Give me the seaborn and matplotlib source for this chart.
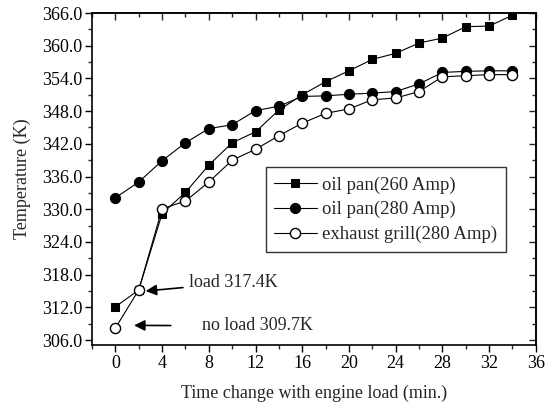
import matplotlib
matplotlib.use("Agg")
import matplotlib.pyplot as plt
import seaborn as sns
import numpy as np
from matplotlib.ticker import MultipleLocator, FormatStrFormatter

time_min = [0, 2, 4, 6, 8, 10, 12, 14, 16, 18, 20, 22, 24, 26, 28, 30, 32, 34]
oil_pan_260 = [312.1, 315.2, 329.2, 333.1, 338.1, 342.2, 344.2, 348.2, 351.0, 353.4,
               355.4, 357.5, 358.6, 360.5, 361.4, 363.5, 363.6, 365.6]
oil_pan_280 = [332.1, 335.0, 338.9, 342.2, 344.8, 345.5, 348.1, 348.9, 350.7, 350.8,
               351.1, 351.3, 351.6, 353.0, 355.1, 355.3, 355.4, 355.4]
exhaust_280 = [308.2, 315.2, 330.1, 331.5, 335.0, 339.0, 341.0, 343.5, 345.8, 347.6,
               348.4, 350.1, 350.4, 351.6, 354.3, 354.5, 354.7, 354.7]
labels = ["oil pan(260 Amp)", "oil pan(280 Amp)", "exhaust grill(280 Amp)"]
x_ticks = [0, 4, 8, 12, 16, 20, 24, 28, 32, 36]
y_ticks = [306, 312, 318, 324, 330, 336, 342, 348, 354, 360, 366]

sns.set_theme(style="ticks")
plt.rcParams['font.family'] = ['Liberation Serif', 'DejaVu Serif']

fig = plt.figure(figsize=(5.53, 4.08), dpi=100)
ax = fig.add_axes([0.1664, 0.1544, 0.8026, 0.8137])

sns.lineplot(x=time_min, y=oil_pan_260, ax=ax, color='black', marker='s',
             markersize=6.3, markerfacecolor='black', markeredgecolor='black',
             linewidth=0.8, label=labels[0])
sns.lineplot(x=time_min, y=oil_pan_280, ax=ax, color='black', marker='o',
             markersize=7.3, markerfacecolor='black', markeredgecolor='black',
             linewidth=0.8, label=labels[1])
sns.lineplot(x=time_min, y=exhaust_280, ax=ax, color='black', marker='o',
             markersize=7.3, markerfacecolor='white', markeredgecolor='black',
             markeredgewidth=1.0, linewidth=0.8, label=labels[2])

ax.set_xlim(-2, 36)
ax.set_ylim(305.1, 366)
ax.set_xticks(x_ticks)
ax.set_yticks(y_ticks)
ax.xaxis.set_minor_locator(MultipleLocator(2))
ax.yaxis.set_minor_locator(MultipleLocator(3))
ax.yaxis.set_major_formatter(FormatStrFormatter('%.1f'))

for s in ax.spines.values():
    s.set_visible(True)
    s.set_color('black')
    s.set_linewidth(1.2)

ax.tick_params(axis='both', which='major', direction='out', length=5, width=1,
               labelsize=13, colors='black', pad=2)
ax.tick_params(axis='both', which='minor', direction='out', length=3, width=1)
sec_x = ax.secondary_xaxis('top')
sec_x.set_xticks(x_ticks)
sec_x.xaxis.set_minor_locator(MultipleLocator(2))
sec_x.tick_params(which='major', direction='in', length=5, width=1, labeltop=False)
sec_x.tick_params(which='minor', direction='in', length=3, width=1)
sec_x.set_xticklabels([])
sec_y = ax.secondary_yaxis('right')
sec_y.set_yticks(y_ticks)
sec_y.yaxis.set_minor_locator(MultipleLocator(3))
sec_y.tick_params(which='major', direction='in', length=5, width=1)
sec_y.tick_params(which='minor', direction='in', length=3, width=1)
sec_y.set_yticklabels([])
for sa in (sec_x, sec_y):
    for s in sa.spines.values():
        s.set_linewidth(1.2)

ax.set_xlabel("Time change with engine load (min.)", fontsize=13, labelpad=9)
ax.set_ylabel("Temperature (K)", fontsize=13, labelpad=8)

leg = ax.legend(loc='upper left', bbox_to_anchor=(0.391, 0.535), frameon=True,
                fancybox=False, edgecolor='black', fontsize=13.5, handlelength=2.25,
                handletextpad=0.27, borderpad=0.47, labelspacing=0.4,
                borderaxespad=0)
leg.get_frame().set_linewidth(1.0)

ax.annotate("load 317.4K", xy=(2.6, 315.0), xytext=(6.3, 316.5),
            fontsize=13, va='center', ha='left',
            arrowprops=dict(arrowstyle='-|>', color='black', lw=1.2,
                            mutation_scale=16, shrinkA=2, shrinkB=0))
ax.annotate("no load 309.7K", xy=(1.6, 308.7), xytext=(7.4, 308.6),
            fontsize=13, va='center', ha='left',
            arrowprops=dict(arrowstyle='-|>', color='black', lw=1.2,
                            mutation_scale=16, shrinkA=20, shrinkB=0))

fig.savefig("out.png", dpi=100)
